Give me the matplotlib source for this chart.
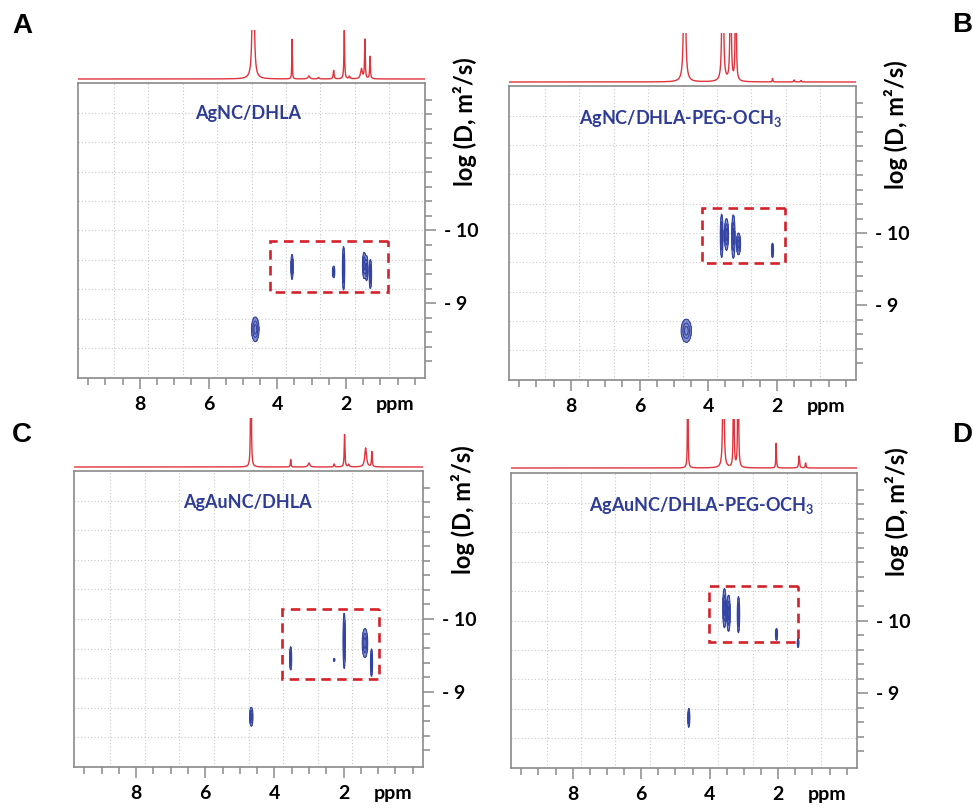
import numpy as np
import matplotlib
matplotlib.use('Agg')
from matplotlib import pyplot as plt
from matplotlib.patches import Rectangle

plt.rcParams['font.family'] = ['Lato', 'DejaVu Sans']
plt.rcParams['mathtext.fontset'] = 'custom'
plt.rcParams['mathtext.rm'] = 'Lato'
plt.rcParams['mathtext.bf'] = 'Lato:bold'

W, H = 973, 808

# panel letters and sample names
letters = ['A', 'B', 'C', 'D']
names = ['AgNC/DHLA', 'AgNC/DHLA-PEG-OCH$_\\mathbf{3}$',
         'AgAuNC/DHLA', 'AgAuNC/DHLA-PEG-OCH$_\\mathbf{3}$']

# 1H spectra on top: peak ppm, height (1 = top of strip), half width (ppm)
spec_ppm_a = [4.70, 3.57, 3.08, 2.80, 2.36, 2.05, 1.90, 1.55, 1.45, 1.30]
spec_h_a = [5.0, 0.80, 0.06, 0.03, 0.17, 0.98, 0.05, 0.20, 0.78, 0.45]
spec_w_a = [0.02, 0.008, 0.03, 0.02, 0.015, 0.012, 0.02, 0.03, 0.012, 0.012]

spec_ppm_b = [4.69, 3.58, 3.35, 3.20, 2.13, 1.50, 1.30]
spec_h_b = [5.0, 6.0, 5.0, 5.0, 0.07, 0.04, 0.03]
spec_w_b = [0.02, 0.015, 0.012, 0.01, 0.01, 0.015, 0.015]

spec_ppm_c = [4.68, 3.53, 3.00, 2.27, 1.97, 1.85, 1.36, 1.18]
spec_h_c = [5.0, 0.15, 0.08, 0.06, 0.65, 0.05, 0.38, 0.30]
spec_w_c = [0.008, 0.01, 0.03, 0.015, 0.012, 0.02, 0.03, 0.012]

spec_ppm_d = [4.64, 3.60, 3.30, 3.17, 2.06, 1.39, 1.20]
spec_h_d = [5.0, 6.0, 6.0, 6.0, 0.50, 0.24, 0.10]
spec_w_d = [0.006, 0.012, 0.007, 0.008, 0.01, 0.015, 0.012]

# DOSY cross peaks: ppm, log D, half width (ppm), half length (log D)
spot_ppm_a = [4.64, 3.57, 2.36, 2.07, 1.47, 1.40, 1.29]
spot_logd_a = [-8.64, -9.50, -9.43, -9.48, -9.52, -9.48, -9.40]
spot_dx_a = [0.11, 0.035, 0.035, 0.035, 0.05, 0.04, 0.035]
spot_dy_a = [0.17, 0.17, 0.08, 0.30, 0.18, 0.17, 0.20]

spot_ppm_b = [4.64, 3.61, 3.47, 3.27, 3.12, 2.13]
spot_logd_b = [-8.65, -9.96, -9.98, -9.95, -9.85, -9.76]
spot_dx_b = [0.15, 0.04, 0.06, 0.05, 0.06, 0.03]
spot_dy_b = [0.16, 0.30, 0.22, 0.30, 0.15, 0.10]

spot_ppm_c = [4.67, 3.53, 2.27, 1.98, 1.38, 1.19]
spot_logd_c = [-8.66, -9.46, -9.44, -9.70, -9.67, -9.40]
spot_dx_c = [0.05, 0.03, 0.02, 0.035, 0.08, 0.03]
spot_dy_c = [0.13, 0.16, 0.02, 0.38, 0.20, 0.19]

spot_ppm_d = [4.61, 3.57, 3.45, 3.16, 2.05, 1.42]
spot_logd_d = [-8.66, -10.17, -10.10, -10.08, -9.81, -9.69]
spot_dx_d = [0.03, 0.05, 0.05, 0.035, 0.03, 0.025]
spot_dy_d = [0.13, 0.27, 0.25, 0.25, 0.08, 0.06]

# dashed boxes: ppm left, ppm right, log D top, log D bottom
box_a = [4.20, 0.78, -9.86, -9.15]
box_b = [4.19, 1.76, -10.35, -9.58]
box_c = [3.79, 0.98, -10.14, -9.18]
box_d = [4.03, 1.42, -10.48, -9.71]

# pixel frames of the 2D plots (left, top, right, bottom) and spectrum baselines
frames = [(78, 83, 425, 378), (509, 86, 856, 380),
          (74, 471, 423, 767), (511, 473, 857, 768)]
baselines = [79, 82, 467, 468]
letter_pos = [(22, 26), (962, 25), (22, 435), (962, 435)]
name_pos = [(0.49, 0.895), (0.493, 0.891), (0.496, 0.895), (0.552, 0.89)]

specs = [(spec_ppm_a, spec_h_a, spec_w_a), (spec_ppm_b, spec_h_b, spec_w_b),
         (spec_ppm_c, spec_h_c, spec_w_c), (spec_ppm_d, spec_h_d, spec_w_d)]
spots = [(spot_ppm_a, spot_logd_a, spot_dx_a, spot_dy_a),
         (spot_ppm_b, spot_logd_b, spot_dx_b, spot_dy_b),
         (spot_ppm_c, spot_logd_c, spot_dx_c, spot_dy_c),
         (spot_ppm_d, spot_logd_d, spot_dx_d, spot_dy_d)]
boxes = [box_a, box_b, box_c, box_d]

XLIM = (9.8, -0.3)
YLIM = (-7.97, -12.03)
RED = '#e0333c'
BLUE = '#3444a4'
TXTBLUE = '#2e3c96'
GREY = '#8a8a8a'


def px_rect(l, t, r, b):
    return [l / W, 1 - b / H, (r - l) / W, (b - t) / H]


fig = plt.figure(figsize=(W / 100, H / 100), dpi=100)

xs = np.linspace(XLIM[0], XLIM[1], 4000)
gx, gy = np.meshgrid(np.linspace(0, 6, 1201), np.linspace(-11, -8, 601))

for i in range(4):
    l, t, r, b = frames[i]

    # 1D projection
    axs = fig.add_axes(px_rect(l, baselines[i] - 49, r, baselines[i] + 1))
    pp, hh, ww = specs[i]
    ys = np.zeros_like(xs)
    for p, h, w in zip(pp, hh, ww):
        ys += h * w ** 2 / ((xs - p) ** 2 + w ** 2)
    axs.plot(xs, ys, color=RED, lw=1.0)
    axs.set_xlim(XLIM)
    axs.set_ylim(-0.02, 0.98)
    axs.axis('off')

    # 2D DOSY
    ax = fig.add_axes(px_rect(l, t, r, b))
    ax.set_xlim(XLIM)
    ax.set_ylim(YLIM)
    for k in range(9):
        ax.axvline(0.75 + k, color='#c8c8c8', ls=(0, (1, 2)), lw=0.8, zorder=0)
    for k in range(-4, 5):
        ax.axhline(-10 + 0.405 * k, color='#c8c8c8', ls=(0, (1, 2)), lw=0.8, zorder=0)

    sp, sl, sdx, sdy = spots[i]
    z = np.zeros_like(gx)
    for p, d, dx, dy in zip(sp, sl, sdx, sdy):
        z += np.exp(-0.5 * ((gx - p) / (dx / 1.8)) ** 2 - 0.5 * ((gy - d) / (dy / 1.8)) ** 2)
    ax.contourf(gx, gy, z, levels=[0.2, 100], colors=[BLUE], alpha=0.6)
    ax.contour(gx, gy, z, levels=[0.2, 0.5, 0.8], colors=[BLUE], linewidths=0.8)

    x0, x1, y0, y1 = boxes[i]
    ax.add_patch(Rectangle((x1, y0), x0 - x1, y1 - y0, fill=False,
                           ec='#d3222b', lw=1.9, ls=(0, (3.6, 2.4)), zorder=5))

    ax.text(name_pos[i][0], name_pos[i][1], names[i], transform=ax.transAxes,
            ha='center', va='center', color=TXTBLUE, fontsize=13,
            fontweight='bold')

    for s in ax.spines.values():
        s.set_color(GREY)
        s.set_linewidth(1.2)

    ax.set_xticks([8, 6, 4, 2])
    ax.set_xticklabels(['8', '6', '4', '2'])
    ax.set_xticks(np.arange(0, 9.6, 0.5), minor=True)
    ax.yaxis.tick_right()
    ax.set_yticks([-10, -9])
    ax.set_yticklabels(['- 10', '- 9'])
    ax.set_yticks(np.arange(-11.8, -8.1, 0.2), minor=True)
    ax.tick_params(which='both', color=GREY, width=1.1, direction='out')
    ax.tick_params(which='major', length=8, labelsize=14, pad=6)
    ax.tick_params(which='minor', length=5)
    ax.tick_params(axis='x', which='major', pad=5)
    for lab in ax.get_xticklabels() + ax.get_yticklabels():
        lab.set_fontweight('bold')

    ax.text(0.914, -0.09, 'ppm', transform=ax.transAxes, ha='center',
            va='center', fontsize=14, fontweight='bold')
    ax.text(1.115, 0.87, 'log (D, m\u00b2/s)', transform=ax.transAxes,
            ha='center', va='center', rotation=90, fontsize=17,
            fontweight='bold')

    fig.text(letter_pos[i][0] / W, 1 - letter_pos[i][1] / H, letters[i],
             ha='center', va='center', fontsize=20, fontweight='bold',
             family=['Liberation Sans', 'DejaVu Sans'])

fig.savefig('out.png', dpi=100)
